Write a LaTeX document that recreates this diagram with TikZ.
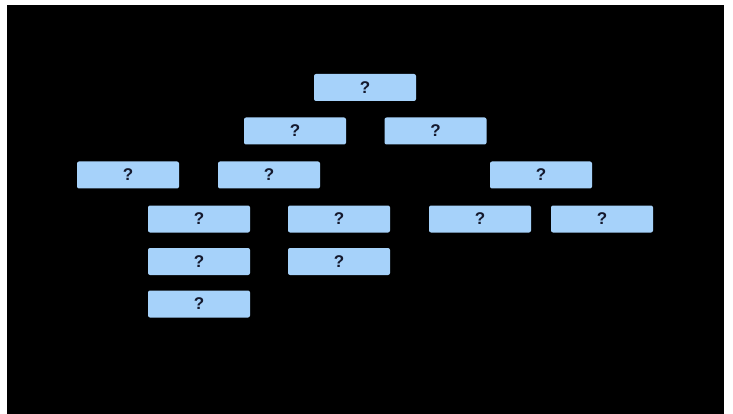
\documentclass[tikz,border=0pt]{standalone}
\usepackage{fontspec}
\setmainfont{Liberation Sans}
\definecolor{boxblue}{RGB}{166,210,250}
\definecolor{qink}{RGB}{20,25,45}
\tikzset{qbox/.style={fill=boxblue, rounded corners=2pt, minimum width=102pt, minimum height=27pt, inner sep=0pt, text=qink, font=\fontsize{17}{17}\selectfont\bfseries}}
\begin{document}
\begin{tikzpicture}[x=1pt,y=-1pt]
\fill[white] (0,0) rectangle (733,414);
\fill[black] (7,5) rectangle (724,414);
\useasboundingbox (0,0) rectangle (733,414);
\node[qbox] (a) at (365,87.5) {?};
\node[qbox] (b) at (295,131) {?};
\node[qbox] (c) at (435.5,131) {?};
\node[qbox] (d) at (128,175) {?};
\node[qbox] (e) at (269,175) {?};
\node[qbox] (f) at (541,175) {?};
\node[qbox] (g) at (199,219) {?};
\node[qbox] (h) at (339,219) {?};
\node[qbox] (i) at (480,219) {?};
\node[qbox] (j) at (602,219) {?};
\node[qbox] (k) at (199,261.5) {?};
\node[qbox] (l) at (339,261.5) {?};
\node[qbox] (m) at (199,304) {?};
\end{tikzpicture}
\end{document}
